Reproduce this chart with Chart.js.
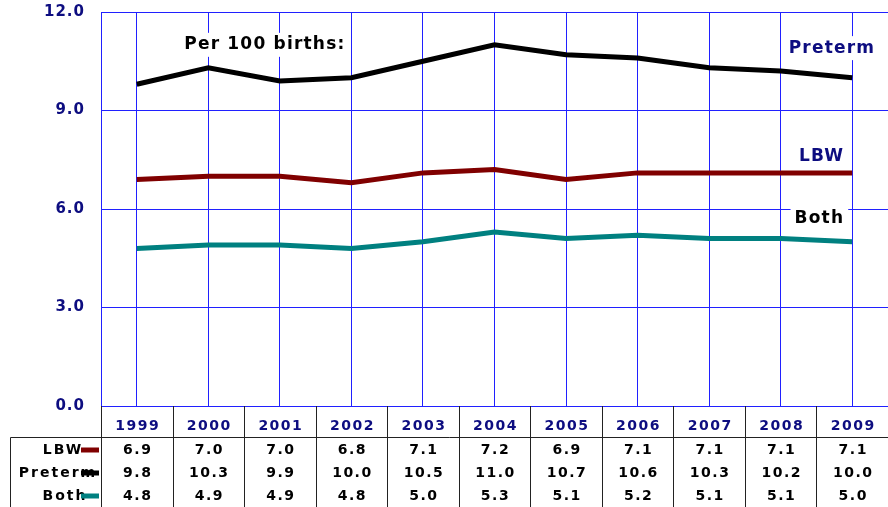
<!DOCTYPE html>
<html><head><meta charset="utf-8">
<script src="https://cdn.jsdelivr.net/npm/chart.js@4/dist/chart.umd.min.js"></script>
<style>html,body{margin:0;padding:0;background:#fff}canvas{display:block}</style>
</head><body>
<canvas id="c" width="888" height="507"></canvas>
<script>
const years = ['1999','2000','2001','2002','2003','2004','2005','2006','2007','2008','2009'];
const lbw = [6.9,7.0,7.0,6.8,7.1,7.2,6.9,7.1,7.1,7.1,7.1];
const preterm = [9.8,10.3,9.9,10.0,10.5,11.0,10.7,10.6,10.3,10.2,10.0];
const both = [4.8,4.9,4.9,4.8,5.0,5.3,5.1,5.2,5.1,5.1,5.0];
const yTicks = [0,3,6,9,12];
const seriesNames = ['LBW','Preterm','Both'];

const NAVY = '#0d0d80';
const FONT = '"DejaVu Sans", Verdana, sans-serif';
const colors = {LBW:'#800000', Preterm:'#000000', Both:'#008080'};
const rows = [
  {name:'LBW', data:lbw},
  {name:'Preterm', data:preterm},
  {name:'Both', data:both}
];

function label(ctx, text, x, y, color, align, bg) {
  ctx.save();
  ctx.font = 'bold 17px ' + FONT;
  ctx.letterSpacing = '1.2px';
  ctx.textBaseline = 'middle';
  ctx.textAlign = align;
  const w = ctx.measureText(text).width;
  let x0 = align === 'right' ? x - w : (align === 'center' ? x - w/2 : x);
  if (bg) { ctx.fillStyle = '#fff'; ctx.fillRect(x0 - 4, y - 12, w + 8, 24); }
  ctx.fillStyle = color;
  ctx.fillText(text, x, y);
  ctx.restore();
}

const annot = {
  id: 'annot',
  beforeDraw(chart) { chart.ctx.letterSpacing = '1px'; },
  beforeDatasetsDraw(chart) {
    const ctx = chart.ctx, xs = chart.scales.x, ys = chart.scales.y;
    label(ctx, 'Per 100 births:', (xs.getPixelForValue(1) + xs.getPixelForValue(3)) / 2 - 15, ys.getPixelForValue(11.0), '#000', 'center', true);
    label(ctx, 'Preterm', xs.getPixelForValue(10) + 23, ys.getPixelForValue(10.9), NAVY, 'right', true);
    label(ctx, 'LBW', xs.getPixelForValue(10) - 8, ys.getPixelForValue(7.6), NAVY, 'right', false);
    label(ctx, 'Both', xs.getPixelForValue(10) - 8, ys.getPixelForValue(5.7), '#000', 'right', true);
  },
  afterDraw(chart) {
    const ctx = chart.ctx, xs = chart.scales.x, ca = chart.chartArea;
    const H = chart.height, W = chart.width;
    const step = xs.getPixelForValue(1) - xs.getPixelForValue(0);
    const headerY = ca.bottom + 20;
    const lineY = ca.bottom + 31.5;
    const rowY = [ca.bottom + 44, ca.bottom + 67, ca.bottom + 90];
    ctx.save();
    ctx.strokeStyle = '#222';
    ctx.lineWidth = 1;
    ctx.beginPath();
    ctx.moveTo(10.5, lineY); ctx.lineTo(W, lineY);
    ctx.moveTo(10.5, lineY); ctx.lineTo(10.5, H);
    for (let i = 0; i <= years.length - 1; i++) {
      const bx = Math.round(xs.getPixelForValue(i) - step/2) + 0.5;
      ctx.moveTo(bx, ca.bottom); ctx.lineTo(bx, H);
    }
    ctx.stroke();
    ctx.font = 'bold 14px ' + FONT;
    ctx.letterSpacing = '1.5px';
    ctx.textAlign = 'center';
    ctx.textBaseline = 'middle';
    ctx.fillStyle = NAVY;
    years.forEach((yr, i) => ctx.fillText(yr, xs.getPixelForValue(i) + 1, headerY));
    ctx.fillStyle = '#000';
    rows.forEach((r, ri) => {
      r.data.forEach((v, i) => ctx.fillText(v.toFixed(1), xs.getPixelForValue(i) + 1, rowY[ri]));
    });
    ctx.letterSpacing = '2px';
    const lx = [63, 58, 65];
    rows.forEach((r, ri) => {
      ctx.fillStyle = '#000';
      ctx.fillText(r.name, lx[ri], rowY[ri]);
      ctx.strokeStyle = colors[r.name];
      ctx.lineWidth = 5;
      ctx.beginPath();
      ctx.moveTo(81, rowY[ri]); ctx.lineTo(99, rowY[ri]);
      ctx.stroke();
    });
    ctx.restore();
  }
};

new Chart(document.getElementById('c'), {
  type: 'line',
  data: {
    labels: years,
    datasets: [
      {label: 'Preterm', data: preterm, borderColor: colors.Preterm, borderWidth: 5, pointRadius: 0, fill: false, tension: 0},
      {label: 'LBW', data: lbw, borderColor: colors.LBW, borderWidth: 5, pointRadius: 0, fill: false, tension: 0},
      {label: 'Both', data: both, borderColor: colors.Both, borderWidth: 5, pointRadius: 0, fill: false, tension: 0}
    ]
  },
  options: {
    responsive: false,
    animation: false,
    layout: {padding: {top: 12, right: 0, bottom: 101, left: 0}},
    plugins: {legend: {display: false}, tooltip: {enabled: false}},
    scales: {
      x: {
        offset: true,
        grid: {offset: false, color: '#2020ff', lineWidth: 1, drawTicks: false},
        border: {display: false},
        ticks: {display: false},
        afterFit(s) { s.height = 0; s.paddingLeft = 0; s.paddingRight = 0; }
      },
      y: {
        min: 0, max: 12,
        afterBuildTicks(s) { s.ticks = yTicks.map(v => ({value: v})); },
        grid: {color: '#2020ff', lineWidth: 1, drawTicks: false},
        border: {display: true, color: '#2020ff', width: 1},
        ticks: {
          color: NAVY, padding: 16,
          font: {family: FONT, size: 15, weight: 'bold'},
          callback: v => Number(v).toFixed(1)
        },
        afterFit(s) { s.width = 101; s.paddingTop = 0; s.paddingBottom = 0; }
      }
    }
  },
  plugins: [annot]
});
</script>
</body></html>
